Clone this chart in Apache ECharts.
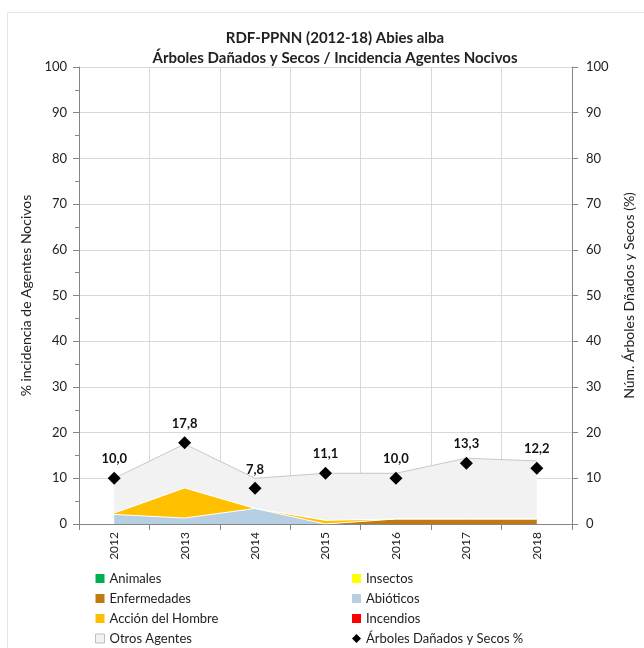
<!DOCTYPE html>
<html><head><meta charset="utf-8">
<script src="https://cdn.jsdelivr.net/npm/echarts@6/dist/echarts.min.js"></script>
<style>html,body{margin:0;padding:0;background:#fff}#c{width:644px;height:648px}</style>
</head><body><div id="c"></div>
<script>
const years = ['2012','2013','2014','2015','2016','2017','2018'];
const animales = [0,0,0,0,0,0,0];
const insectos = [0,0,0,0,0,0,0];
const enfermedades = [0,0,0,0,1.1,1.1,1.1];
const abioticos = [2.1,1.3,3.4,0,0,0,0];
const accionHombre = [0.3,6.6,0,0.8,0,0,0];
const incendios = [0,0,0,0,0,0,0];
const otrosAgentes = [7.6,9.6,6.6,10.3,10.0,13.3,12.7];
const arbolesDanados = [10.0,17.8,7.8,11.1,10.0,13.3,12.2];

const FONT = 'Lato, "Open Sans", sans-serif';
const chart = echarts.init(document.getElementById('c'));
function area(name, data, color, lineColor){
  return {name, type:'line', stack:'inc', data, symbol:'none', yAxisIndex:0,
    lineStyle:{width: lineColor?1:0, color: lineColor||color},
    itemStyle:{color, borderColor: lineColor||color},
    areaStyle:{color, opacity:1}};
}
const legendText = {fontSize:13, color:'#222', fontFamily:FONT};
chart.setOption({
  animation:false,
  textStyle:{fontFamily:FONT},
  graphic:[{type:'rect', shape:{x:7.5,y:12.5,width:640,height:640}, style:{fill:'none', stroke:'#e6e6e6', lineWidth:1}}],
  title:{text:'RDF-PPNN (2012-18) Abies alba\nÁrboles Dañados y Secos / Incidencia Agentes Nocivos',
    left:330, textAlign:'center', top:23,
    textStyle:{fontSize:15, fontWeight:'bold', color:'#222', lineHeight:20, fontFamily:FONT}},
  grid:{left:79, right:57, top:67, bottom:124},
  xAxis:{type:'category', data:years, boundaryGap:true,
    axisLine:{lineStyle:{color:'#868686'}},
    axisTick:{show:true, length:6, lineStyle:{color:'#868686'}},
    splitLine:{show:true, lineStyle:{color:'#d9d9d9'}},
    axisLabel:{rotate:90, color:'#222', fontSize:12, margin:8, fontFamily:FONT}},
  yAxis:[
    {type:'value', min:0, max:100, interval:10, position:'left',
     name:'% incidencia de Agentes Nocivos', nameLocation:'middle', nameRotate:90, nameGap:46,
     nameTextStyle:{fontSize:14, color:'#222', fontFamily:FONT},
     axisLine:{show:true, lineStyle:{color:'#868686'}},
     axisTick:{show:true, length:6, lineStyle:{color:'#868686'}},
     minorTick:{show:true, splitNumber:2, length:4, lineStyle:{color:'#868686'}},
     splitLine:{show:true, lineStyle:{color:'#d9d9d9'}},
     axisLabel:{color:'#222', fontSize:13, margin:12, fontFamily:FONT}},
    {type:'value', min:0, max:100, interval:10, position:'right',
     name:'Núm. Árboles Dñados y Secos (%)', nameLocation:'middle', nameRotate:90, nameGap:50,
     nameTextStyle:{fontSize:14, color:'#222', fontFamily:FONT},
     axisLine:{show:true, lineStyle:{color:'#868686'}},
     axisTick:{show:true, length:6, lineStyle:{color:'#868686'}},
     splitLine:{show:false},
     axisLabel:{color:'#222', fontSize:13, margin:14, fontFamily:FONT}}
  ],
  legend:[
    {orient:'vertical', left:95, top:572, height:90, itemWidth:9, itemHeight:9, itemGap:7, padding:0,
     textStyle:legendText,
     data:[{name:'Animales',icon:'rect'},{name:'Enfermedades',icon:'rect'},{name:'Acción del Hombre',icon:'rect'},
           {name:'Otros Agentes',icon:'rect',itemStyle:{color:'#f2f2f2',borderColor:'#bfbfbf',borderWidth:1}}]},
    {orient:'vertical', left:352, top:572, height:90, itemWidth:9, itemHeight:9, itemGap:7, padding:0,
     textStyle:legendText,
     data:[{name:'Insectos',icon:'rect'},{name:'Abióticos',icon:'rect'},{name:'Incendios',icon:'rect'},{name:'Árboles Dañados y Secos %', icon:'diamond'}]}
  ],
  series:[
    area('Animales', animales, '#00b050'),
    area('Enfermedades', enfermedades, '#c07a10'),
    area('Insectos', insectos, '#ffff00'),
    area('Abióticos', abioticos, '#b7cfe3', '#ffffff'),
    area('Acción del Hombre', accionHombre, '#ffc000', '#ffffff'),
    area('Incendios', incendios, '#ff0000'),
    area('Otros Agentes', otrosAgentes, '#f2f2f2', '#c8c8c8'),
    {name:'Árboles Dañados y Secos %', type:'line', yAxisIndex:1, data:arbolesDanados,
     symbol:'diamond', symbolSize:13, lineStyle:{width:0, opacity:0},
     itemStyle:{color:'#000'},
     label:{show:true, position:'top', distance:6, fontSize:13, fontWeight:'bold', color:'#111',
       fontFamily:FONT, formatter:p=>p.value.toFixed(1).replace('.',',')}}
  ]
});
</script></body></html>
